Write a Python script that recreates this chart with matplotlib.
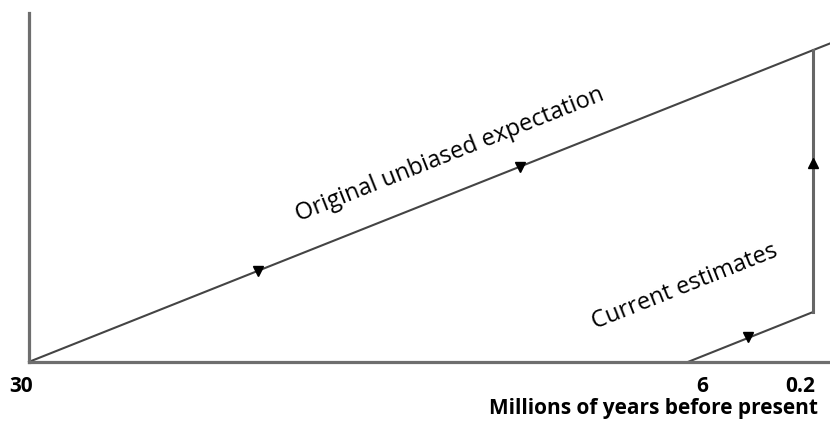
import matplotlib
matplotlib.use("Agg")
import matplotlib.pyplot as plt
import matplotlib.transforms as mtransforms

# positions along the (non-linear) time axis, arbitrary units 0..100
original_x = [0, 97.9, 100]
original_y = [0, 89.4, 91.3]
current_x = [82.3, 97.9]
current_y = [0, 14.3]
drop_x = [97.9, 97.9]
drop_y = [14.3, 89.4]

tick_pos = [0, 84.1, 96.3]
tick_labels = ['30', '6', '0.2']

# arrow heads on the lines
arrows_down_x = [28.6, 61.3, 89.8]
arrows_down_y = [26.1, 56.0, 7.2]
arrows_up_x = [97.9]
arrows_up_y = [57.0]

plt.rcParams['font.family'] = ['Open Sans', 'DejaVu Sans']

fig = plt.figure(figsize=(8.3, 4.37), dpi=100)
ax = fig.add_axes([0.035, 0.172, 0.965, 0.798])

line_col = '#444444'
ax.plot(original_x, original_y, color=line_col, lw=1.5, clip_on=False)
ax.plot(current_x, current_y, color=line_col, lw=1.5)
ax.plot(drop_x, drop_y, color='#666666', lw=2.2)
ax.plot(arrows_down_x, arrows_down_y, 'v', color='black', ms=7.5, ls='none')
ax.plot(arrows_up_x, arrows_up_y, '^', color='black', ms=7.5, ls='none')

ax.text(52.6, 59.3, 'Original unbiased expectation', rotation=21.7,
        rotation_mode='anchor', ha='center', va='center', fontsize=17,
        color='black')
ax.text(81.9, 21.5, 'Current estimates', rotation=21.7,
        rotation_mode='anchor', ha='center', va='center', fontsize=17,
        color='black')

ax.set_xlim(0, 100)
ax.set_ylim(0, 100)
ax.set_xticks(tick_pos)
ax.set_xticklabels(tick_labels, fontsize=15, fontweight='bold')
ax.set_yticks([])
ax.tick_params(axis='x', length=0, pad=10)
# the "30" label sits a little left of the spine
shift = mtransforms.ScaledTranslation(-0.08, 0, fig.dpi_scale_trans)
ax.get_xticklabels()[0].set_transform(ax.get_xticklabels()[0].get_transform() + shift)
ax.set_xlabel('Millions of years before present', fontsize=15,
              fontweight='bold', loc='right', labelpad=1)
ax.xaxis.label.set_x(0.985)

for s in ['top', 'right']:
    ax.spines[s].set_visible(False)
for s in ['left', 'bottom']:
    ax.spines[s].set_color('#6e6e6e')
    ax.spines[s].set_linewidth(2.3)

fig.savefig('out.png', dpi=100)
